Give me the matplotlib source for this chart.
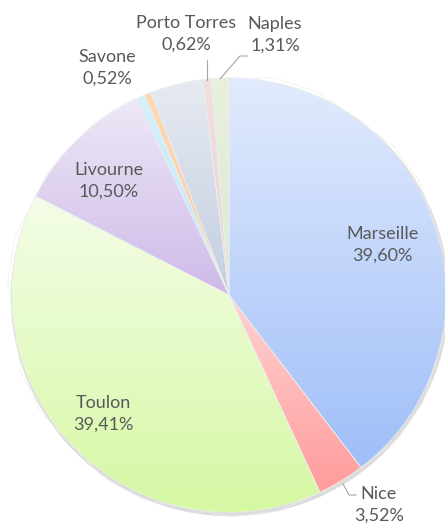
import numpy as np
import matplotlib
matplotlib.use("Agg")
import matplotlib.pyplot as plt
from matplotlib.colors import to_rgb

labels = ["Marseille", "Nice", "Toulon", "Livourne", "", "Savone", "", "Porto Torres", "Naples"]
values = [39.60, 3.52, 39.41, 10.50, 0.60, 0.52, 3.92, 0.62, 1.31]
pct_text = ["39,60%", "3,52%", "39,41%", "10,50%", "", "0,52%", "", "0,62%", "1,31%"]

top_cols = ["#e2ebfd", "#ffd3d3", "#f4fde8", "#eee8f7", "#d2f1fb", "#fdd9b8", "#e6eaf2", "#f1e0e0", "#e8f0de"]
bot_cols = ["#9fbef8", "#ff9b9b", "#d5f8a2", "#cdbae8", "#bfe9f8", "#facba3", "#c3cee0", "#e8d4d4", "#dde8d0"]

W, H = 445, 524
fig = plt.figure(figsize=(W / 100, H / 100), dpi=100)
ax = fig.add_axes([0, 0, 1, 1])

cx, cy, R = 229, H - 295, 217

shadow = plt.Circle((cx + 1, cy - 2), R + 1.5, color="#dcdcdc", zorder=0)
ax.add_patch(shadow)

wedges, _ = ax.pie(values, startangle=90, counterclock=False, center=(cx, cy),
                   radius=R, frame=True,
                   wedgeprops=dict(linewidth=0.5, edgecolor="#f4f4f4"))
ax.set_xlim(0, W)
ax.set_ylim(0, H)
ax.axis("off")

inv = ax.transData.inverted()
for w, c1, c2 in zip(wedges, top_cols, bot_cols):
    w.set_facecolor(c1)
    verts = w.get_transform().transform_path(w.get_path()).vertices
    dv = inv.transform(verts)
    ymin, ymax = dv[:, 1].min(), dv[:, 1].max()
    xmin, xmax = dv[:, 0].min(), dv[:, 0].max()
    t = np.linspace(0, 1, 256)[:, None]
    a = np.array(to_rgb(c1)); b = np.array(to_rgb(c2))
    grad = a * (1 - t) + b * t
    img = np.repeat(grad[:, None, :], 2, axis=1)
    im = ax.imshow(img, extent=(xmin - 1, xmax + 1, ymin - 1, ymax + 1), origin="upper",
                   aspect="auto", interpolation="bilinear", zorder=1.5)
    im.set_clip_path(w)
    w.set_zorder(1)
    e = plt.Polygon(dv, closed=True, fill=False, edgecolor="#eeeeee", linewidth=0.5, zorder=1.6)
    ax.add_patch(e)

ax.set_xlim(0, W)
ax.set_ylim(0, H)

tc = "#595959"
fkw = dict(family="Lato", fontsize=13, color=tc, ha="center", va="center", zorder=5)

pos = {0: (382, 245), 1: (379, 505), 2: (103, 414), 3: (109, 181),
       5: (107, 68), 7: (186, 34), 8: (275, 35)}
for i, (x, y) in pos.items():
    ax.text(x, H - y, labels[i] + "\n" + pct_text[i], linespacing=1.4, **fkw)

lc = "#a6a6a6"
ax.plot([343, 349, 356], [H - 484, H - 495, H - 495], color=lc, lw=0.8, zorder=4)
ax.plot([207, 207], [H - 80, H - 60], color=lc, lw=0.8, zorder=4)
ax.plot([220, 240, 247], [H - 79, H - 56, H - 56], color=lc, lw=0.8, zorder=4)

fig.savefig("out.png", dpi=100)
